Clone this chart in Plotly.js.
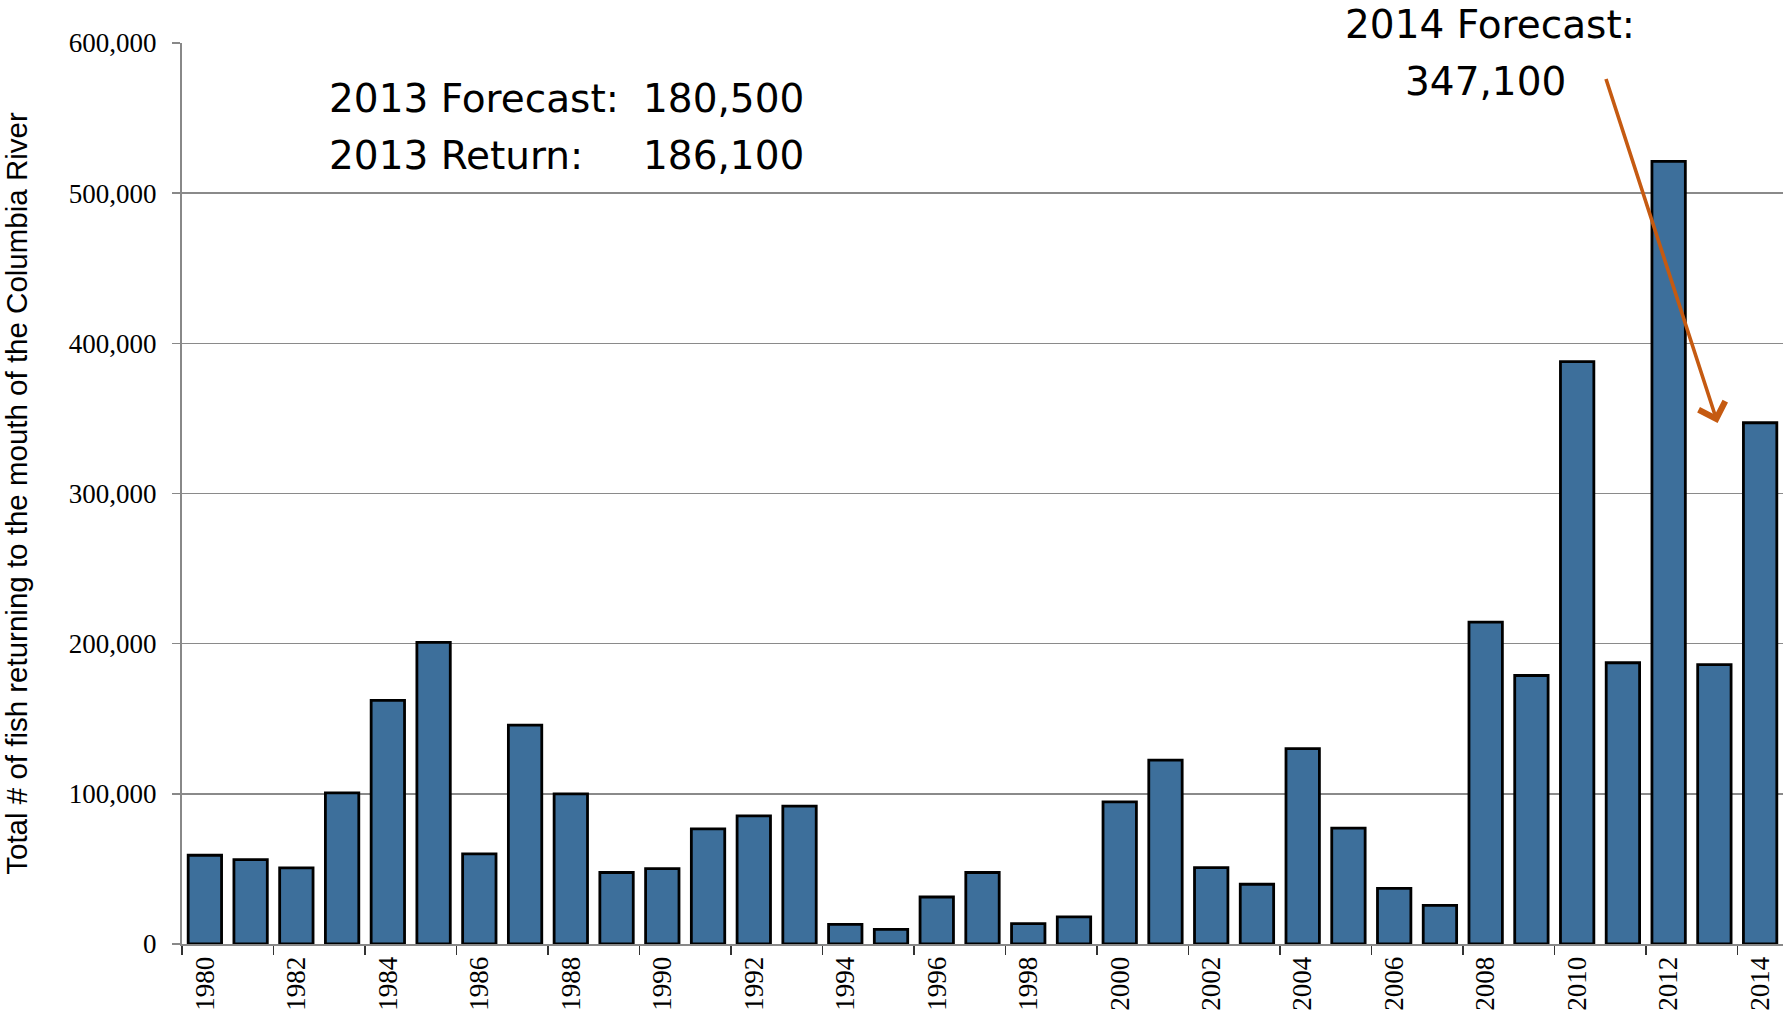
<!DOCTYPE html>
<html>
<head>
<meta charset="utf-8">
<script src="https://cdn.plot.ly/plotly-3.0.1.min.js"></script>
<style>html,body{margin:0;padding:0;background:#fff;}#chart{width:1783px;height:1020px;}</style>
</head>
<body>
<div id="chart"></div>
<script>
const years = ["1980","1981","1982","1983","1984","1985","1986","1987","1988","1989",
  "1990","1991","1992","1993","1994","1995","1996","1997","1998","1999",
  "2000","2001","2002","2003","2004","2005","2006","2007","2008","2009",
  "2010","2011","2012","2013","2014"];
const fishReturns = [59100,56200,50700,100700,162200,200900,60000,145800,100000,47600,
  50200,76700,85300,91800,13100,9800,31300,47600,13600,18000,
  94700,122400,50900,39800,130100,77100,37000,25700,214300,178800,
  387800,187300,521200,186100,347100];
const yTitle = "Total # of fish returning to the mouth of the Columbia River";
const forecastLabels = ["2013 Forecast:", "2013 Return:"];
const forecastValues = ["180,500", "186,100"];
const forecast2014Label = "2014 Forecast:";
const forecast2014Value = "347,100";

const L = 182, T = 43, W = 1601, H = 901;
const px = v => (v - L) / W;
const py = v => (T + H - v) / H;
const annFont = {family: "DejaVu Sans", size: 39, color: "#000"};

const trace = {
  type: "bar",
  x: years,
  y: fishReturns,
  width: 0.73,
  marker: {color: "#3d6f9b", line: {color: "#000", width: 2.8}},
  hoverinfo: "x+y"
};

const annotations = [
  {xref:"paper", yref:"paper", x:px(327), y:py(98), xanchor:"left", yanchor:"middle", text:forecastLabels[0], showarrow:false, font:annFont},
  {xref:"paper", yref:"paper", x:px(327), y:py(155), xanchor:"left", yanchor:"middle", text:forecastLabels[1], showarrow:false, font:annFont},
  {xref:"paper", yref:"paper", x:px(641), y:py(98), xanchor:"left", yanchor:"middle", text:forecastValues[0], showarrow:false, font:annFont},
  {xref:"paper", yref:"paper", x:px(641), y:py(155), xanchor:"left", yanchor:"middle", text:forecastValues[1], showarrow:false, font:annFont},
  {xref:"paper", yref:"paper", x:px(1343), y:py(25), xanchor:"left", yanchor:"middle", text:forecast2014Label, showarrow:false, font:annFont},
  {xref:"paper", yref:"paper", x:px(1403), y:py(82), xanchor:"left", yanchor:"middle", text:forecast2014Value, showarrow:false, font:annFont},
  {xref:"x", yref:"y", x:33.07, y:347000, axref:"x", ayref:"y", ax:30.62, ay:577000,
   text:"", showarrow:true, arrowhead:4, arrowsize:1.5, arrowwidth:3.6, arrowcolor:"#c55a11"}
];

const layout = {
  width: 1783, height: 1020,
  margin: {l: L, r: 0, t: T, b: 1020 - T - H, pad: 0},
  paper_bgcolor: "#fff", plot_bgcolor: "#fff",
  showlegend: false,
  bargap: 0.27,
  xaxis: {
    type: "category",
    tickson: "boundaries",
    dtick: 2, tick0: 0,
    ticks: "outside", ticklen: 9, tickwidth: 1.5, tickcolor: "#333",
    tickangle: -90,
    tickfont: {family: "Liberation Serif", size: 27, color: "#000"},
    showline: true, linecolor: "#888", linewidth: 2,
    showgrid: false, zeroline: false,
    range: [-0.5, 34.5]
  },
  yaxis: {
    range: [0, 600000],
    dtick: 100000, tick0: 0,
    tickformat: ",d",
    ticks: "outside", ticklen: 8, tickwidth: 1.5, tickcolor: "#888",
    ticklabelstandoff: 10,
    tickfont: {family: "Liberation Serif", size: 27, color: "#000"},
    showgrid: true, gridcolor: "#8a8a8a", gridwidth: 1.5,
    showline: true, linecolor: "#888", linewidth: 2,
    zeroline: false,
    title: {text: yTitle, font: {family: "Liberation Sans", size: 29.5, color: "#000"}, standoff: 33}
  },
  annotations: annotations
};

Plotly.newPlot("chart", [trace], layout, {displayModeBar: false, staticPlot: true});
</script>
</body>
</html>
